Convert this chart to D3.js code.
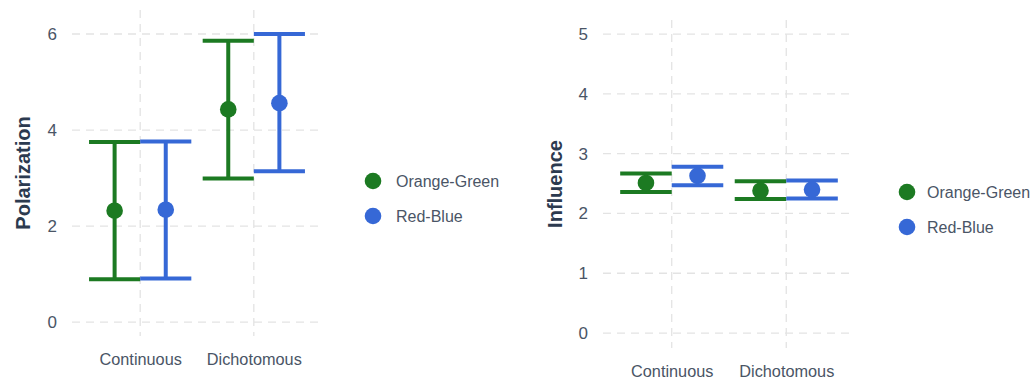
<!DOCTYPE html>
<html>
<head>
<meta charset="utf-8">
<script src="https://cdn.jsdelivr.net/npm/d3@7"></script>
<style>
  html, body { margin: 0; padding: 0; background: #ffffff; }
  svg { display: block; font-family: "Liberation Sans", Arial, Helvetica, sans-serif; }
</style>
</head>
<body>
<svg id="chart" width="1035" height="381"></svg>
<script>
// Categories and groups
const categories = ["Continuous", "Dichotomous"];
const groups = ["Orange-Green", "Red-Blue"];
const groupColors = ["#1c7a22", "#3668d6"];

// Polarization: means and interval bounds, one array per group (Continuous, Dichotomous)
const polOGMean = [2.32, 4.43];
const polOGLow  = [0.89, 2.99];
const polOGHigh = [3.75, 5.86];
const polRBMean = [2.34, 4.56];
const polRBLow  = [0.91, 3.14];
const polRBHigh = [3.76, 6.00];
const polTicks  = [0, 2, 4, 6];

// Influence: means and interval bounds
const infOGMean = [2.51, 2.38];
const infOGLow  = [2.36, 2.24];
const infOGHigh = [2.67, 2.54];
const infRBMean = [2.63, 2.40];
const infRBLow  = [2.47, 2.25];
const infRBHigh = [2.78, 2.55];
const infTicks  = [0, 1, 2, 3, 4, 5];

function rows(means, lows, highs) {
  return categories.map((c, i) => ({ cat: c, mean: means[i], lo: lows[i], hi: highs[i] }));
}

const panels = [
  {
    title: "Polarization",
    series: [rows(polOGMean, polOGLow, polOGHigh), rows(polRBMean, polRBLow, polRBHigh)],
    ticks: polTicks,
    yDomain: [-0.29, 6.5],
    x0: 72, x1: 322, yTop: 10, yBot: 336,
    titleX: 30, legendX: 373, legendY: 181, legendGap: 23
  },
  {
    title: "Influence",
    series: [rows(infOGMean, infOGLow, infOGHigh), rows(infRBMean, infRBLow, infRBHigh)],
    ticks: infTicks,
    yDomain: [-0.25, 5.235],
    x0: 603, x1: 855, yTop: 20, yBot: 348,
    titleX: 562, legendX: 907, legendY: 192, legendGap: 20
  }
];

const svg = d3.select("#chart");
const gridColor = "#e3e3e3";
const tickColor = "#4a5566";
const titleColor = "#2c3a4f";

panels.forEach(p => {
  const g = svg.append("g");

  // discrete x positions with 0.6 unit expansion on each side
  const x = d3.scalePoint().domain(categories).range([p.x0, p.x1]).padding(0.6);
  const step = x.step();
  const dodge = d3.scaleBand().domain(groups).range([-0.45 * step, 0.45 * step]);
  const y = d3.scaleLinear().domain(p.yDomain).range([p.yBot, p.yTop]);

  // horizontal grid
  g.append("g").selectAll("line").data(p.ticks).join("line")
    .attr("x1", p.x0).attr("x2", p.x1)
    .attr("y1", d => y(d)).attr("y2", d => y(d))
    .attr("stroke", gridColor).attr("stroke-width", 1.3)
    .attr("stroke-dasharray", "8,6");

  // vertical grid
  g.append("g").selectAll("line").data(categories).join("line")
    .attr("x1", d => x(d)).attr("x2", d => x(d))
    .attr("y1", p.yTop).attr("y2", p.yBot)
    .attr("stroke", gridColor).attr("stroke-width", 1.3)
    .attr("stroke-dasharray", "8,6");

  // y axis labels
  const yAxis = d3.axisLeft(y).tickValues(p.ticks).tickFormat(d3.format("d"))
    .tickSize(0).tickPadding(15);
  const ya = g.append("g").attr("transform", `translate(${p.x0},0)`).call(yAxis);
  ya.select(".domain").remove();
  ya.selectAll("text").attr("fill", tickColor).attr("font-size", 17)
    .attr("font-family", "Liberation Sans, Arial, sans-serif");

  // x axis labels
  const xAxis = d3.axisBottom(x).tickSize(0).tickPadding(0);
  const xa = g.append("g").attr("transform", `translate(0,${p.yBot + 17})`).call(xAxis);
  xa.select(".domain").remove();
  xa.selectAll("text").attr("fill", tickColor).attr("font-size", 16.3)
    .attr("dy", "0.71em")
    .attr("font-family", "Liberation Sans, Arial, sans-serif");

  // axis title
  g.append("text")
    .attr("transform", `translate(${p.titleX},${(p.yTop + p.yBot) / 2}) rotate(-90)`)
    .attr("text-anchor", "middle")
    .attr("font-size", 20).attr("font-weight", "bold")
    .attr("fill", titleColor)
    .text(p.title);

  // error bars and points
  const capHalf = dodge.bandwidth() / 2;
  p.series.forEach((s, gi) => {
    const col = groupColors[gi];
    const cx = d => x(d.cat) + dodge(groups[gi]) + dodge.bandwidth() / 2;
    const sg = g.append("g");
    sg.selectAll("line.v").data(s).join("line").attr("class", "v")
      .attr("x1", cx).attr("x2", cx)
      .attr("y1", d => y(d.lo)).attr("y2", d => y(d.hi))
      .attr("stroke", col).attr("stroke-width", 4);
    sg.selectAll("line.hi").data(s).join("line").attr("class", "hi")
      .attr("x1", d => cx(d) - capHalf).attr("x2", d => cx(d) + capHalf)
      .attr("y1", d => y(d.hi)).attr("y2", d => y(d.hi))
      .attr("stroke", col).attr("stroke-width", 4);
    sg.selectAll("line.lo").data(s).join("line").attr("class", "lo")
      .attr("x1", d => cx(d) - capHalf).attr("x2", d => cx(d) + capHalf)
      .attr("y1", d => y(d.lo)).attr("y2", d => y(d.lo))
      .attr("stroke", col).attr("stroke-width", 4);
    sg.selectAll("circle").data(s).join("circle")
      .attr("cx", cx).attr("cy", d => y(d.mean)).attr("r", 8.3)
      .attr("fill", col);
  });

  // legend
  const lg = g.append("g").attr("transform", `translate(${p.legendX},${p.legendY})`);
  groups.forEach((name, i) => {
    lg.append("circle").attr("cx", 0).attr("cy", i * 35).attr("r", 8.3).attr("fill", groupColors[i]);
    lg.append("text").attr("x", p.legendGap).attr("y", i * 35).attr("dy", "0.36em")
      .attr("font-size", 16).attr("fill", tickColor).text(name);
  });
});
</script>
</body>
</html>
